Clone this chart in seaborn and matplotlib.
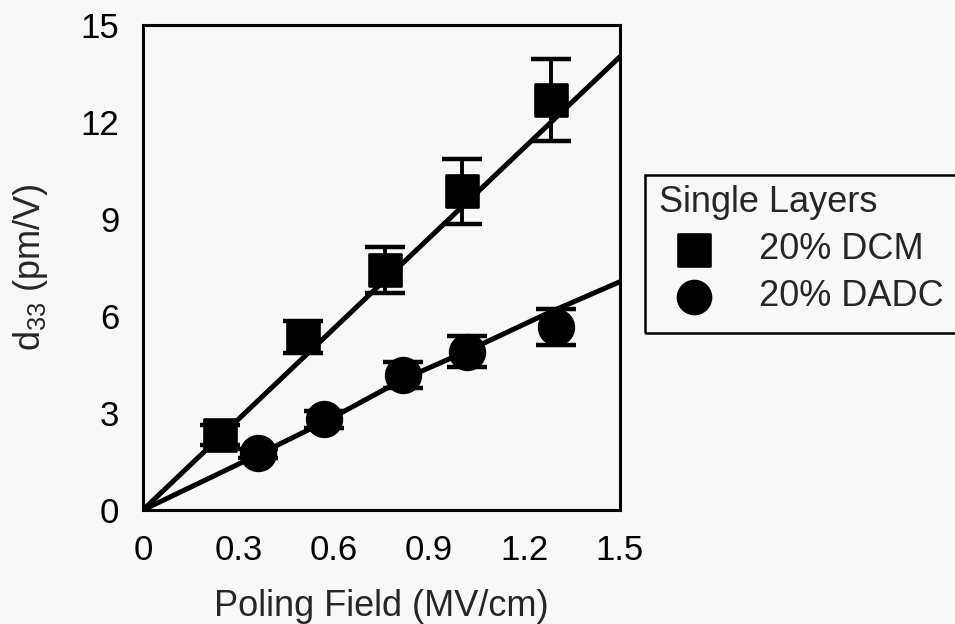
import numpy as np
import pandas as pd
import matplotlib
matplotlib.use("Agg")
import matplotlib.pyplot as plt
from matplotlib.patches import Rectangle
import seaborn as sns

# data
dcm_field = [0.242, 0.504, 0.761, 1.002, 1.282]
dcm_d33 = [2.32, 5.36, 7.42, 9.85, 12.68]
dcm_err = [0.30, 0.50, 0.72, 1.00, 1.27]

dadc_field = [0.363, 0.569, 0.819, 1.018, 1.300]
dadc_d33 = [1.75, 2.80, 4.18, 4.90, 5.67]
dadc_err = [0.15, 0.25, 0.41, 0.48, 0.56]

# fitted lines
dcm_fit_x = [0.0, 1.5]
dcm_fit_y = [0.0, 14.02]
dadc_fit_x = [0.0, 0.36, 0.57, 0.82, 1.02, 1.28, 1.5]
dadc_fit_y = [0.0, 1.70, 2.72, 4.05, 4.92, 6.12, 7.06]

x_ticks = [0, 0.3, 0.6, 0.9, 1.2, 1.5]
y_ticks = [0, 3, 6, 9, 12, 15]

bg = "#f8f8f8"
sns.set_style("white")
plt.rcParams['font.family'] = ['Liberation Sans', 'DejaVu Sans']
plt.rcParams['mathtext.fontset'] = 'custom'
plt.rcParams['mathtext.rm'] = 'Liberation Sans'
plt.rcParams['mathtext.it'] = 'Liberation Sans'

fig = plt.figure(figsize=(9.55, 6.24), dpi=100, facecolor=bg)
ax = fig.add_axes([0.1497, 0.1827, 0.4995, 0.7773])
ax.set_facecolor(bg)

sns.lineplot(x=dcm_fit_x, y=dcm_fit_y, color="black", lw=3.6, ax=ax, zorder=2)
sns.lineplot(x=dadc_fit_x, y=dadc_fit_y, color="black", lw=3.6, ax=ax, zorder=2)

ax.errorbar(dcm_field, dcm_d33, yerr=dcm_err, fmt="none", ecolor="black",
            elinewidth=2.8, capsize=14.5, capthick=3.2, zorder=3)
ax.errorbar(dadc_field, dadc_d33, yerr=dadc_err, fmt="none", ecolor="black",
            elinewidth=2.8, capsize=14.5, capthick=3.2, zorder=3)

sns.scatterplot(x=dcm_field, y=dcm_d33, marker="s", s=560, color="black",
                edgecolor="black", ax=ax, zorder=4, label="20% DCM")
sns.scatterplot(x=dadc_field, y=dadc_d33, marker="o", s=620, color="black",
                edgecolor="black", ax=ax, zorder=4, label="20% DADC")

ax.set_xlim(0, 1.5)
ax.set_ylim(0, 15)
ax.set_xticks(x_ticks)
ax.set_yticks(y_ticks)
ax.set_xticklabels([f"{v:g}" for v in x_ticks])
ax.set_yticklabels([str(v) for v in y_ticks])
ax.tick_params(direction="in", length=12, width=1.5, labelsize=25, pad=17,
               color="black", labelcolor="black")
for sp in ax.spines.values():
    sp.set_color("black")
    sp.set_linewidth(2.2)

ax.set_xlabel("Poling Field (MV/cm)", fontsize=26, labelpad=16)
ax.set_ylabel("d$_{33}$ (pm/V)", fontsize=26, labelpad=22)

# legend box runs off the right edge of the picture
fig.patches.append(Rectangle((645 / 955, 1 - 333 / 624), 0.4, 158 / 624,
                             transform=fig.transFigure, fill=False,
                             edgecolor="black", lw=1.8))
leg = ax.legend(title="Single Layers", loc="upper left",
                bbox_to_anchor=(652 / 955, 1 - 178 / 624),
                bbox_transform=fig.transFigure, frameon=False,
                fontsize=26, title_fontsize=26, markerscale=0.95,
                handletextpad=0.85, borderpad=0.2, labelspacing=0.33,
                borderaxespad=0, handlelength=1.9)
leg._legend_box.align = "left"

fig.savefig("out.png", dpi=100, facecolor=bg)
